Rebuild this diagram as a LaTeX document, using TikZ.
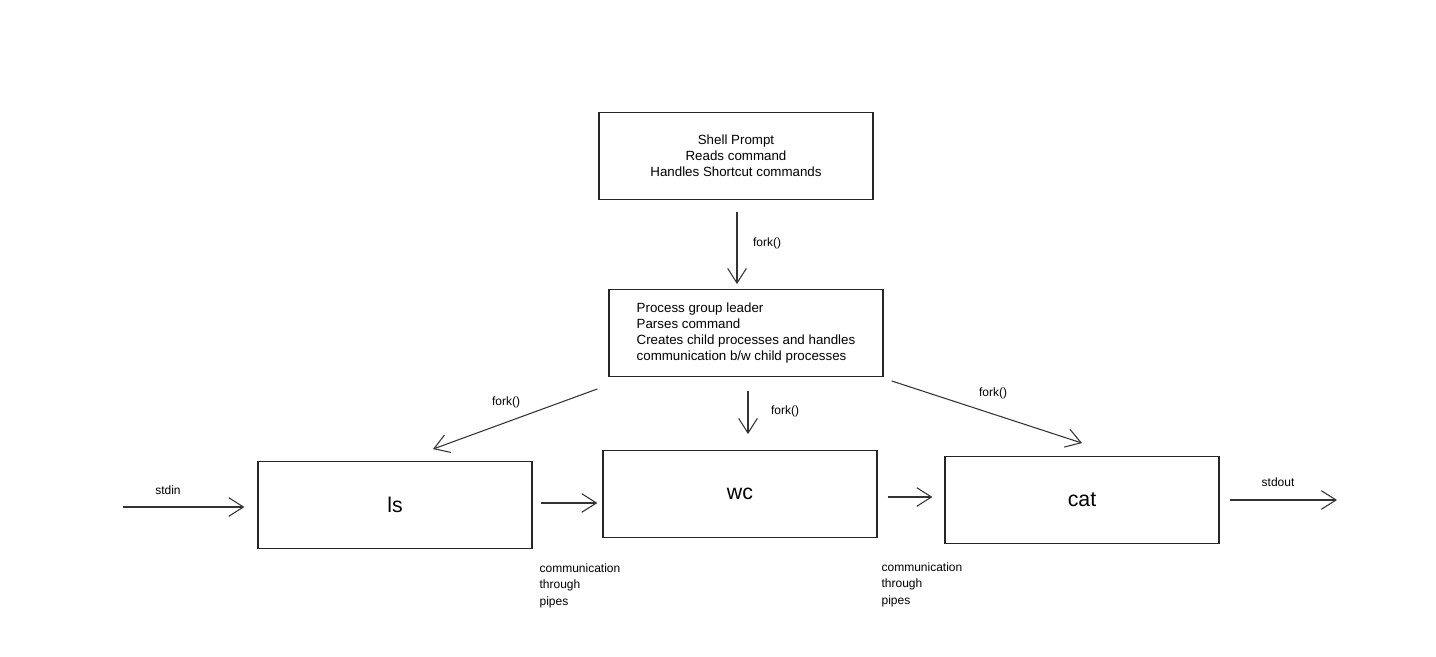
\documentclass[tikz,border=0pt]{standalone}
\usepackage{fontspec}
\setmainfont{Liberation Sans}
\usetikzlibrary{arrows.meta}

\begin{document}
\begin{tikzpicture}[x=0.75pt, y=-0.75pt]
  \tikzset{
    box/.style={draw=black!85, line width=0.9pt, minimum width=205.5pt, minimum height=65pt, inner sep=0pt, font=\fontsize{10}{12}\selectfont},
    cmd/.style={box, font=\fontsize{16}{18}\selectfont},
    lbl/.style={inner sep=1pt, font=\fontsize{9}{12.4}\selectfont},
    arr/.style={draw=black!80, line width=0.8pt, -{Straight Barb[length=11pt, width=14pt]}}
  }

  % page frame
  \useasboundingbox (0,0) rectangle (1436,657);

  % boxes
  \node[box, align=center] (shell) at (736,156) {Shell Prompt\\Reads command\\Handles Shortcut commands};
  \node[box, align=left] (pgl) at (746,333) {Process group leader\\Parses command\\Creates child processes and handles\\communication b/w child processes};
  \node[cmd] (ls) at (395,505) {ls};
  \node[cmd] (wc) at (740,494) {wc};
  \node[cmd] (cat) at (1082,500) {cat};

  % free ends of the outer streams
  \coordinate (in) at (123,507);
  \coordinate (out) at (1337,500);

  % forks
  \draw[arr] ([shift={(1,12)}]shell.south) -- ([shift={(-9,-5)}]pgl.north);
  \draw[arr] ([shift={(-11,12)}]pgl.south west) -- ([shift={(38,-12)}]ls.north);
  \draw[arr] ([shift={(2,14)}]pgl.south) -- ([shift={(8,-16)}]wc.north);
  \draw[arr] ([shift={(8,4)}]pgl.south east) -- ([shift={(0,-13)}]cat.north);

  % pipeline
  \draw[arr] (in) -- ([shift={(-13,2)}]ls.west);
  \draw[arr] ([shift={(8,-2)}]ls.east) -- ([shift={(-5,9)}]wc.west);
  \draw[arr] ([shift={(10,3)}]wc.east) -- ([shift={(-12,-3)}]cat.west);
  \draw[arr] ([shift={(10,0)}]cat.east) -- (out);

  % labels
  \node[lbl] (f1) at (767,243) {fork()};
  \node[lbl] (f2) at (506,402) {fork()};
  \node[lbl] (f3) at (785,411) {fork()};
  \node[lbl] (f4) at (993,393) {fork()};
  \node[lbl] (sin) at (168,490) {stdin};
  \node[lbl] (sout) at (1278,482) {stdout};
  \node[lbl, anchor=north west, align=left] (p1) at (538,562) {communication\\through\\pipes};
  \node[lbl, anchor=north west, align=left] (p2) at (880,561) {communication\\through\\pipes};
\end{tikzpicture}
\end{document}
